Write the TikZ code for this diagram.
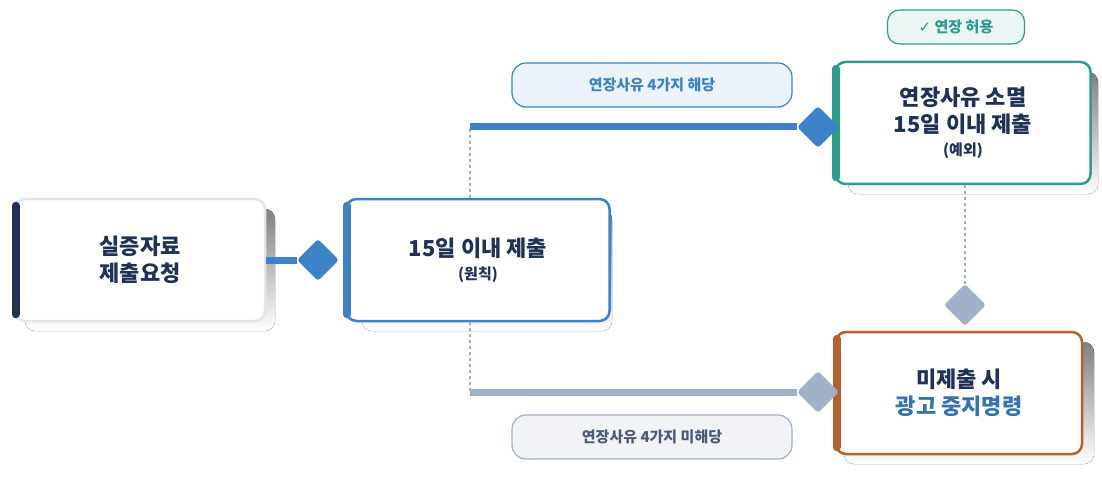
\documentclass[tikz,border=0pt]{standalone}
\usepackage{fontspec}
\setmainfont{Noto Sans CJK KR}
\newfontfamily\symfont{DejaVu Sans}
\usetikzlibrary{arrows.meta, positioning, shapes.geometric, calc}
\definecolor{navy}{HTML}{1F3157}
\definecolor{cblue}{HTML}{3B82C8}
\definecolor{cteal}{HTML}{2A9D8F}
\definecolor{cbrown}{HTML}{B5602A}
\definecolor{cgray}{HTML}{9FB0C8}
\definecolor{shade}{HTML}{C9D6E6}

\begin{document}
\begin{tikzpicture}[x=1pt,y=-1pt]
    \tikzstyle{box}=[draw, line width=2.5pt, rounded corners=10pt, fill=white, minimum width=255pt, minimum height=122pt, align=center, text=navy, font=\bfseries\fontsize{22}{27}\selectfont]
    \tikzstyle{bar}=[line width=8pt, line cap=round]
    \tikzstyle{pill}=[draw, line width=1.2pt, rounded corners=14pt, minimum width=280pt, minimum height=44pt, font=\bfseries\fontsize{15}{18}\selectfont]
    \tikzstyle{gate}=[diamond, minimum size=42pt, inner sep=0pt, rounded corners=3pt]
    \tikzstyle{link}=[line width=7pt]
    \tikzstyle{guide}=[cgray, dashed, line width=1.8pt]

    \useasboundingbox (0,0) rectangle (1102,481);

    % shadows
    \foreach \cx/\cy in {147/266, 484/266, 970/129, 966/399}
        \fill[shade, rounded corners=10pt] ({\cx-122},{\cy-57}) rectangle ({\cx+128},{\cy+65});

    \node[box, draw=shade!60!white, minimum width=250pt] (req) at (140,260) {실증자료\\제출요청};
    \node[box, draw=cblue, minimum width=263pt] (rule) at (478,260) {15일 이내 제출\\[-4pt]{\fontsize{15}{18}\selectfont (원칙)}};
    \node[box, draw=cteal] (ext) at (963,123) {연장사유 소멸\\15일 이내 제출\\[-4pt]{\fontsize{15}{18}\selectfont (예외)}};
    \node[box, draw=cbrown, minimum width=246pt] (stop) at (959,393) {미제출 시\\\textcolor{cblue!80!navy}{광고 중지명령}};

    \draw[bar, navy] ($(req.north west)+(2,8)$) -- ($(req.south west)+(2,-8)$);
    \draw[bar, cblue] ($(rule.north west)+(2,8)$) -- ($(rule.south west)+(2,-8)$);
    \draw[bar, cteal] ($(ext.north west)+(2,8)$) -- ($(ext.south west)+(2,-8)$);
    \draw[bar, cbrown] ($(stop.north west)+(2,8)$) -- ($(stop.south west)+(2,-8)$);

    % connectors
    \coordinate (up) at (470,127);
    \coordinate (down) at (470,392);
    \node[gate, fill=cblue] (g1) at (318,260) {};
    \node[gate, fill=cblue] (g2) at (818,127) {};
    \node[gate, fill=cgray] (g3) at (818,392) {};
    \node[gate, fill=cgray] (g4) at (965,305) {};

    \draw[link, cblue] (req.east) -- (g1);
    \draw[guide] (rule.north -| up) -- (up);
    \draw[link, cblue] (up) -- (g2);
    \draw[guide] (rule.south -| down) -- (down);
    \draw[link, cgray] (down) -- (g3);
    \draw[guide] (ext.south -| g4) -- (g4);

    % labels
    \node[pill, draw=cblue, fill=cblue!10, text=cblue] (yes) at (652,85) {연장사유 4가지 해당};
    \node[pill, draw=cgray, fill=cgray!15, text=navy!80] (no) at (652,437) {연장사유 4가지 미해당};
    \node[pill, draw=cteal, fill=cteal!10, text=cteal, minimum width=137pt, minimum height=34pt, rounded corners=12pt] (ok) at (956,27) {{\symfont ✓} 연장 허용};
\end{tikzpicture}
\end{document}
